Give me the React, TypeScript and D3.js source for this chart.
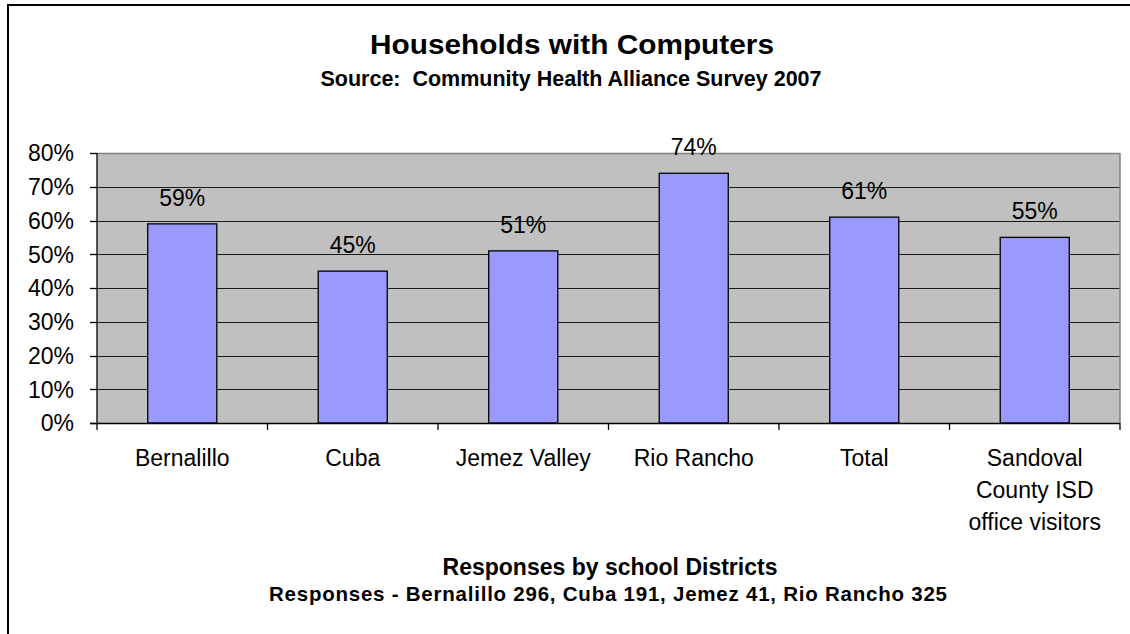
import React from "react";
import * as d3 from "d3";

const categories: string[][] = [
  ["Bernalillo"],
  ["Cuba"],
  ["Jemez Valley"],
  ["Rio Rancho"],
  ["Total"],
  ["Sandoval", "County ISD", "office visitors"],
];
const values: number[] = [0.59, 0.45, 0.51, 0.74, 0.61, 0.55];
const yTicks: number[] = [0, 0.1, 0.2, 0.3, 0.4, 0.5, 0.6, 0.7, 0.8];

const title = "Households with Computers";
const subtitle = "Source:  Community Health Alliance Survey 2007";
const axisTitle1 = "Responses by school Districts";
const axisTitle2 = "Responses - Bernalillo 296, Cuba 191, Jemez 41, Rio Rancho 325";

const W = 1130;
const H = 634;
const left = 97;
const right = 1120;
const top = 153;
const bottom = 423;
const FONT = "'Liberation Sans', Arial, sans-serif";

export default function App() {
  const keys = categories.map((c) => c.join(" "));
  const x = d3
    .scaleBand<string>()
    .domain(keys)
    .range([left, right])
    .paddingInner(0.595)
    .paddingOuter(0.2975);
  const xStep = d3.scaleBand<string>().domain(keys).range([left, right]).padding(0);
  const y = d3.scaleLinear().domain([0, 0.8]).range([bottom, top]);
  const fmt = d3.format(".0%");
  const boundaries = d3.range(keys.length + 1).map((i) => left + i * xStep.step());

  return (
    <svg
      width={W}
      height={H}
      style={{ position: "absolute", left: 0, top: 0, background: "#fff" }}
      fontFamily={FONT}
    >
      <rect x={0} y={0} width={W} height={H} fill="#fff" />
      {/* outer border */}
      <rect x={8} y={5} width={W + 20} height={H + 20} fill="none" stroke="#000" strokeWidth={2} />

      {/* titles */}
      <text x={572} y={54} textAnchor="middle" fontSize={28} fontWeight="bold" textLength={404} lengthAdjust="spacingAndGlyphs">
        {title}
      </text>
      <text x={571} y={86} textAnchor="middle" fontSize={21.5} fontWeight="bold" style={{ whiteSpace: "pre" }}>
        {subtitle}
      </text>

      {/* plot area */}
      <rect x={left} y={top} width={right - left} height={bottom - top} fill="#C0C0C0" />
      {yTicks.slice(1).map((t) => (
        <line key={t} x1={left} x2={right} y1={Math.round(y(t)) + 0.5} y2={Math.round(y(t)) + 0.5} stroke="#1a1a1a" strokeWidth={1} />
      ))}
      <line x1={left} x2={right} y1={top + 0.5} y2={top + 0.5} stroke="#808080" strokeWidth={1.5} />
      <line x1={right} x2={right} y1={top} y2={bottom} stroke="#808080" strokeWidth={1.5} />

      {/* bars */}
      {values.map((v, i) => (
        <rect
          key={keys[i]}
          x={x(keys[i])}
          y={y(v)}
          width={x.bandwidth()}
          height={y(0) - y(v)}
          fill="#9999FF"
          stroke="#000"
          strokeWidth={1.3}
        />
      ))}

      {/* axes */}
      <line x1={left} x2={left} y1={top} y2={bottom} stroke="#000" strokeWidth={1.3} />
      <line x1={left - 7} x2={right} y1={bottom + 0.5} y2={bottom + 0.5} stroke="#000" strokeWidth={1.3} />
      {yTicks.map((t) => (
        <g key={t}>
          <line x1={left - 7} x2={left} y1={Math.round(y(t)) + 0.5} y2={Math.round(y(t)) + 0.5} stroke="#000" strokeWidth={1.3} />
          <text x={74} y={y(t)} dy="0.36em" textAnchor="end" fontSize={23}>
            {fmt(t)}
          </text>
        </g>
      ))}
      {boundaries.map((b, i) => (
        <line key={i} x1={b} x2={b} y1={bottom} y2={bottom + 7} stroke="#000" strokeWidth={1.3} />
      ))}

      {/* x labels */}
      {categories.map((lines, i) => (
        <text key={keys[i]} x={(xStep(keys[i]) as number) + xStep.step() / 2} y={466} textAnchor="middle" fontSize={23}>
          {lines.map((ln, j) => (
            <tspan key={j} x={(xStep(keys[i]) as number) + xStep.step() / 2} dy={j === 0 ? 0 : 32}>
              {ln}
            </tspan>
          ))}
        </text>
      ))}

      {/* value labels */}
      {values.map((v, i) => (
        <text key={keys[i]} x={(x(keys[i]) as number) + x.bandwidth() / 2} y={y(v) - 18} textAnchor="middle" fontSize={23}>
          {fmt(v)}
        </text>
      ))}

      {/* axis titles */}
      <text x={610} y={575} textAnchor="middle" fontSize={23} fontWeight="bold">
        {axisTitle1}
      </text>
      <text x={608} y={601} textAnchor="middle" fontSize={20.5} fontWeight="bold" textLength={678} lengthAdjust="spacing">
        {axisTitle2}
      </text>
    </svg>
  );
}
